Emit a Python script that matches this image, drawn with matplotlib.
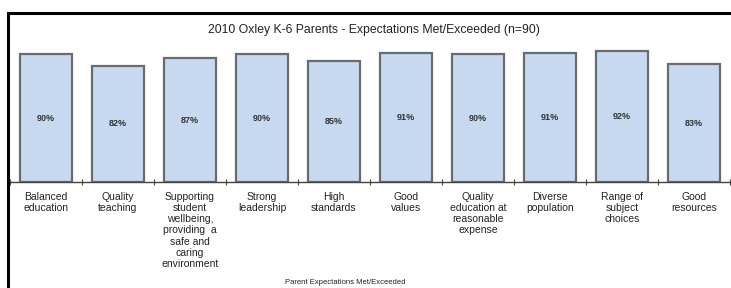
import matplotlib.pyplot as plt
from matplotlib.patches import Rectangle
import numpy as np

plt.rcParams['font.family'] = ['Liberation Sans', 'DejaVu Sans']

# data
categories = [
    "Balanced\neducation",
    "Quality\nteaching",
    "Supporting\nstudent\nwellbeing,\nproviding  a\nsafe and\ncaring\nenvironment",
    "Strong\nleadership",
    "High\nstandards",
    "Good\nvalues",
    "Quality\neducation at\nreasonable\nexpense",
    "Diverse\npopulation",
    "Range of\nsubject\nchoices",
    "Good\nresources",
]
met_pct = [90, 82, 87, 90, 85, 91, 90, 91, 92, 83]
title = "2010 Oxley K-6 Parents - Expectations Met/Exceeded (n=90)"
series_name = "Parent Expectations Met/Exceeded"

W, H = 731, 288
fig = plt.figure(figsize=(W / 100, H / 100), dpi=100)

# outer frame
fig.patches.append(Rectangle((8 / W, -0.05), 1.0, (H - 13) / H + 0.05,
                             transform=fig.transFigure, fill=False,
                             edgecolor='black', linewidth=2.2))

ax = fig.add_axes([10 / W, (H - 182) / H, 720 / W, 142 / H])
x = np.arange(len(categories))
bars = ax.bar(x, met_pct, width=0.72, color='#c6d9f1',
              edgecolor='#6b6b6b', linewidth=1.6)
for rect, v in zip(bars, met_pct):
    ax.text(rect.get_x() + rect.get_width() / 2, v / 2, f"{v}%",
            ha='center', va='center', fontsize=6.5, color='#333333',
            fontweight='bold')

ax.set_xlim(-0.5, len(categories) - 0.5)
ax.set_ylim(0, 100)
for s in ['top', 'right', 'left']:
    ax.spines[s].set_visible(False)
ax.spines['bottom'].set_color('#444444')
ax.spines['bottom'].set_linewidth(1)
ax.set_yticks([])
ax.set_xticks(np.arange(len(categories) + 1) - 0.5)
ax.set_xticklabels([])
ax.tick_params(axis='x', direction='inout', length=5, width=0.8, color='#444444')

for i, lab in enumerate(categories):
    ax.annotate(lab, (i, 0), xytext=(0, -7), textcoords='offset points',
                ha='center', va='top', fontsize=7.5, color='#222222',
                linespacing=1.15)

fig.text(374 / W, 1 - 30 / H, title, ha='center', va='center',
         fontsize=8.8, color='#222222')
fig.text(285 / W, 1 - 283 / H, series_name, ha='left', va='center',
         fontsize=5.5, color='#222222')

fig.savefig('out.png', dpi=100, facecolor='white')
